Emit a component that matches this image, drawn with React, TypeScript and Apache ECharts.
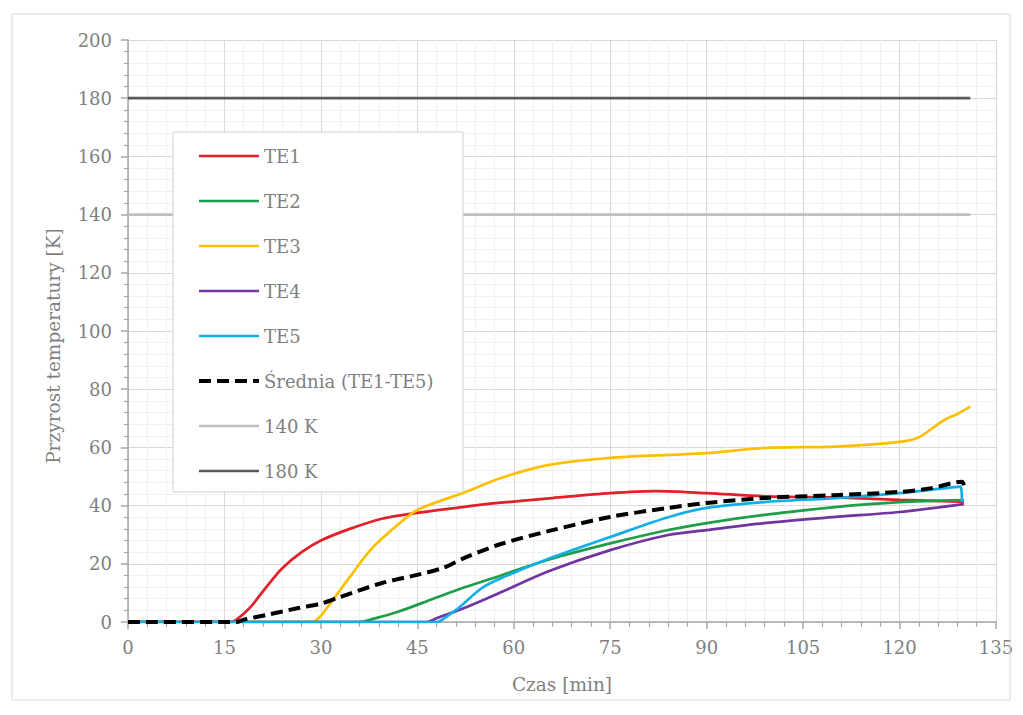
import React, { useEffect, useRef } from "react";
import * as echarts from "echarts";

// Temperature rise [K] over time [min] for thermocouples TE1..TE5
const te1: [number, number][] = [
  [0, 0], [16, 0], [17, 1], [19, 5], [21.5, 12], [24, 18.5], [27, 24], [30, 28],
  [34.5, 32], [39.5, 35.5], [45, 37.5], [52, 39.5], [58, 41], [66, 42.6],
  [75, 44.3], [82, 45], [90, 44.3], [99, 43.2], [110, 42.8], [120, 42], [130, 41.3],
];
const te2: [number, number][] = [
  [0, 0], [36, 0], [38, 1], [42, 3.5], [47.5, 8], [52.5, 12], [58, 16],
  [65.5, 21.5], [75, 27], [84, 31.6], [90, 34], [99, 36.8], [110, 39.5],
  [120, 41.2], [130, 41.9],
];
const te3: [number, number][] = [
  [0, 0], [28.5, 0], [29.5, 1], [31, 5], [34.5, 15.5], [38, 25.5], [42, 33.5],
  [45, 38.5], [52.5, 44.7], [58, 49.5], [65.5, 54], [75, 56.4], [84, 57.4],
  [90, 58], [99, 59.8], [110, 60.3], [120, 61.9], [123, 63.5], [127, 69.5],
  [129, 71.5], [131, 74],
];
const te4: [number, number][] = [
  [0, 0], [46.5, 0], [48, 1.3], [52.5, 5], [58, 10.2], [65.5, 17.5], [75, 24.7],
  [84, 29.9], [90, 31.6], [99, 34], [110, 36.1], [120, 37.8], [130, 40.5],
];
const te5: [number, number][] = [
  [0, 0], [48, 0], [49.5, 1.8], [51.5, 5], [55, 11.6], [58, 15], [65.5, 21.8],
  [75, 29.2], [84, 36], [90, 39.2], [99, 41.2], [110, 42.6], [120, 44.3],
  [129.5, 46.5], [129.7, 41.3],
];
const mean: [number, number][] = [
  [0, 0], [17, 0], [18, 0.8], [21.5, 2.4], [26.5, 4.8], [30, 6.3], [33, 8.6],
  [39.5, 13.4], [45, 16.2], [49, 18.6], [52.5, 22.2], [58, 26.8], [65.5, 31.3],
  [75, 36.1], [84, 39.2], [90, 40.9], [99, 42.6], [110, 43.6], [120, 44.7],
  [125, 46], [129.7, 48.2], [130, 47],
];
const limit140: [number, number][] = [[0, 140], [131, 140]];
const limit180: [number, number][] = [[0, 180], [131, 180]];

const FONT = "DejaVu Serif";
const TEXT = "#7f7f7f";

export default function App() {
  const ref = useRef<HTMLDivElement>(null);

  useEffect(() => {
    if (!ref.current) return;
    const chart = echarts.init(ref.current, undefined, { renderer: "svg" });

    const line = (name: string, data: [number, number][], color: string, width = 2.7, extra: any = {}) => ({
      name,
      type: "line",
      data,
      symbol: "none",
      smooth: 0.3,
      lineStyle: { color, width, ...extra },
      itemStyle: { color },
    });

    chart.setOption({
      animation: false,
      backgroundColor: "#ffffff",
      textStyle: { fontFamily: FONT, color: TEXT },
      grid: { left: 128, top: 40, right: 27, bottom: 93 },
      graphic: [
        {
          type: "rect",
          shape: { x: 12, y: 14, width: 998, height: 686 },
          style: { fill: "none", stroke: "#d9d9d9", lineWidth: 1 },
          z: 1,
        },
        {
          type: "rect",
          shape: { x: 173, y: 132, width: 290, height: 360 },
          style: { fill: "#ffffff", stroke: "#d0d0d0", lineWidth: 1 },
          z: 10,
        },
      ],
      legend: {
        orient: "vertical",
        left: 197,
        top: 146,
        padding: 0,
        itemWidth: 60,
        itemHeight: 20,
        itemGap: 25,
        z: 20,
        itemStyle: { opacity: 0 },
        lineStyle: { width: "inherit" },
        textStyle: { fontFamily: FONT, fontSize: 18, color: TEXT, lineHeight: 20 },
        data: ["TE1", "TE2", "TE3", "TE4", "TE5", "Średnia (TE1-TE5)", "140 K", "180 K"],
      },
      xAxis: {
        type: "value",
        min: 0,
        max: 135,
        interval: 15,
        name: "Czas [min]",
        nameLocation: "middle",
        nameGap: 53,
        nameTextStyle: { fontFamily: FONT, fontSize: 18.5, color: TEXT },
        axisLine: { show: true, lineStyle: { color: "#a6a6a6", width: 1.5 } },
        axisTick: { show: true, length: 7, lineStyle: { color: "#a6a6a6", width: 1.5 } },
        minorTick: { show: true, splitNumber: 5, length: 5, lineStyle: { color: "#a6a6a6", width: 1.2 } },
        axisLabel: { fontFamily: FONT, fontSize: 18, color: TEXT, margin: 16 },
        splitLine: { show: true, lineStyle: { color: "#d9d9d9", width: 1 } },
        minorSplitLine: { show: true, lineStyle: { color: "#f0f0f0", width: 1 } },
      },
      yAxis: {
        type: "value",
        min: 0,
        max: 200,
        interval: 20,
        name: "Przyrost temperatury [K]",
        nameLocation: "middle",
        nameGap: 65,
        nameTextStyle: { fontFamily: FONT, fontSize: 18.5, color: TEXT, padding: [0, 30, 0, 0] },
        axisLine: { show: true, lineStyle: { color: "#a6a6a6", width: 1.5 } },
        axisTick: { show: true, length: 7, lineStyle: { color: "#a6a6a6", width: 1.5 } },
        minorTick: { show: true, splitNumber: 5, length: 4, lineStyle: { color: "#a6a6a6", width: 1.2 } },
        axisLabel: { fontFamily: FONT, fontSize: 18, color: TEXT, margin: 16 },
        splitLine: { show: true, lineStyle: { color: "#d9d9d9", width: 1 } },
        minorSplitLine: { show: true, lineStyle: { color: "#f0f0f0", width: 1 } },
      },
      series: [
        line("TE1", te1, "#e3202a"),
        line("TE2", te2, "#1e9e48"),
        line("TE3", te3, "#ffbf00"),
        line("TE4", te4, "#7035a0"),
        line("TE5", te5, "#12aee8"),
        line("Średnia (TE1-TE5)", mean, "#000000", 4, { type: [12, 6] }),
        { ...line("140 K", limit140, "#bfbfbf", 2.7), smooth: false },
        { ...line("180 K", limit180, "#595959", 2.7), smooth: false },
      ],
    });

    return () => chart.dispose();
  }, []);

  return (
    <div
      ref={ref}
      style={{ position: "fixed", left: 0, top: 0, width: 1023, height: 715, background: "#fff" }}
    />
  );
}
